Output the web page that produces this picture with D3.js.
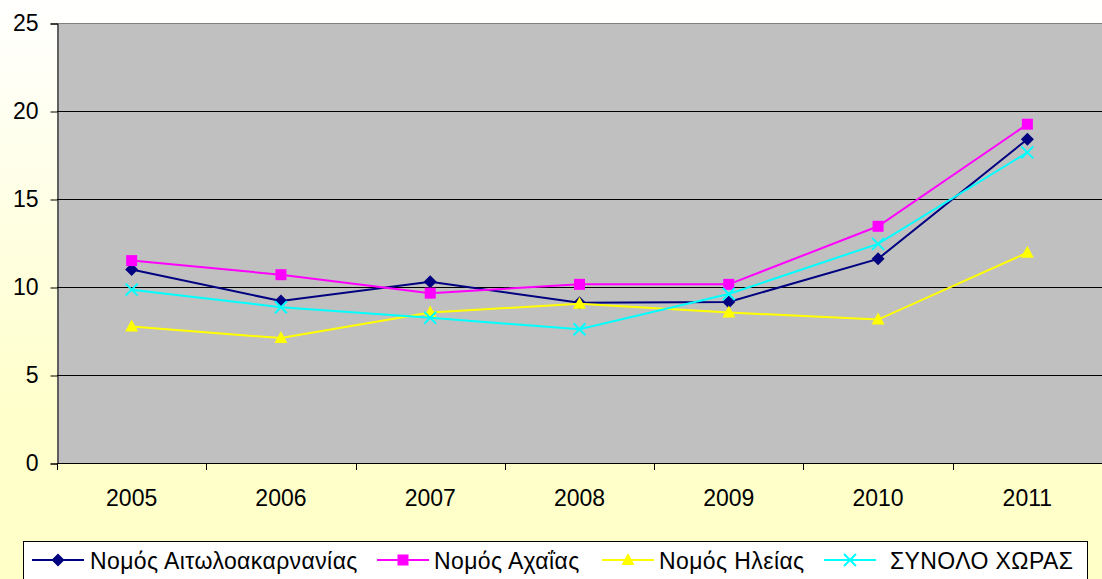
<!DOCTYPE html>
<html>
<head>
<meta charset="utf-8">
<script src="https://cdn.jsdelivr.net/npm/d3@7"></script>
<style>
  body { margin: 0; padding: 0; overflow: hidden; }
  text { font-family: "Liberation Sans", Arial, sans-serif; fill: #000; }
</style>
</head>
<body>
<div id="chart"></div>
<script>
// data
var years = ["2005", "2006", "2007", "2008", "2009", "2010", "2011"];
var seriesNames = ["Νομός Αιτωλοακαρνανίας", "Νομός Αχαΐας", "Νομός Ηλείας", "ΣΥΝΟΛΟ ΧΩΡΑΣ"];
var aitoloakarnania = [11.0, 9.2, 10.3, 9.1, 9.15, 11.6, 18.4];
var achaia = [11.5, 10.7, 9.65, 10.15, 10.15, 13.45, 19.25];
var ileia = [7.75, 7.1, 8.55, 9.05, 8.55, 8.15, 11.95];
var synolo = [9.85, 8.85, 8.25, 7.6, 9.6, 12.45, 17.65];
var yTicks = [0, 5, 10, 15, 20, 25];

var width = 1102, height = 579;
var margin = { left: 57, right: 0, top: 23, bottom: 116 };

var svg = d3.select('#chart')
    .append('svg')
    .attr('width', width)
    .attr('height', height);

// background: white fading into pale yellow
var grad = svg.append('defs').append('linearGradient')
    .attr('id', 'bg').attr('x1', 0).attr('y1', 0).attr('x2', 0).attr('y2', 1);
grad.append('stop').attr('offset', '0%').attr('stop-color', '#ffffff');
grad.append('stop').attr('offset', '70%').attr('stop-color', '#ffffcc');
grad.append('stop').attr('offset', '100%').attr('stop-color', '#ffffc8');
svg.append('rect').attr('width', width).attr('height', height).attr('fill', 'url(#bg)');

const x = d3.scaleBand()
    .domain(years)
    .range([margin.left, width - margin.right]);

const y = d3.scaleLinear()
    .domain([0, 25])
    .range([height - margin.bottom, margin.top]);

// plot area
svg.append('rect')
    .attr('x', margin.left)
    .attr('y', y(25))
    .attr('width', width - margin.right - margin.left)
    .attr('height', y(0) - y(25))
    .attr('fill', '#c0c0c0');

// gridlines
svg.append('g')
    .selectAll('line')
    .data(yTicks.filter(t => t > 0))
    .enter()
    .append('line')
    .attr('x1', margin.left)
    .attr('x2', width - margin.right)
    .attr('y1', d => Math.round(y(d)) + 0.5)
    .attr('y2', d => Math.round(y(d)) + 0.5)
    .attr('stroke', d => d === 25 ? '#808080' : '#000')
    .attr('stroke-width', 1);

// y axis
const yAxis = svg.append('g')
    .attr('transform', `translate(${margin.left + 0.5},0.5)`)
    .call(d3.axisLeft(y).tickValues(yTicks).tickSize(7).tickPadding(12));
yAxis.select('.domain').attr('stroke', '#000');
yAxis.selectAll('text').style('font-size', '23px').attr('font-family', '"Liberation Sans", Arial, sans-serif');

// x axis, ticks between categories
const xAxis = svg.append('g')
    .attr('transform', `translate(0,${Math.round(y(0)) + 0.5})`)
    .call(d3.axisBottom(x).tickSize(0).tickPadding(26));
xAxis.select('.domain').remove();
xAxis.selectAll('text').style('font-size', '23px').attr('font-family', '"Liberation Sans", Arial, sans-serif');
svg.append('line')
    .attr('x1', margin.left).attr('x2', width)
    .attr('y1', Math.round(y(0)) + 0.5).attr('y2', Math.round(y(0)) + 0.5)
    .attr('stroke', '#000');
svg.append('g')
    .selectAll('line')
    .data(years)
    .enter()
    .append('line')
    .attr('x1', d => Math.round(x(d)) + 0.5)
    .attr('x2', d => Math.round(x(d)) + 0.5)
    .attr('y1', y(0))
    .attr('y2', y(0) + 7)
    .attr('stroke', '#000');

const series = [
    { name: seriesNames[0], values: aitoloakarnania, color: '#000080', symbol: 'diamond' },
    { name: seriesNames[1], values: achaia, color: '#ff00ff', symbol: 'square' },
    { name: seriesNames[2], values: ileia, color: '#ffff00', symbol: 'triangle' },
    { name: seriesNames[3], values: synolo, color: '#00ffff', symbol: 'cross' }
];

function drawMarker(g, s, cx, cy) {
    if (s.symbol === 'diamond') {
        g.append('path').attr('d', `M${cx},${cy - 6.5}L${cx + 6.5},${cy}L${cx},${cy + 6.5}L${cx - 6.5},${cy}Z`).attr('fill', s.color);
    } else if (s.symbol === 'square') {
        g.append('rect').attr('x', cx - 5.5).attr('y', cy - 5.5).attr('width', 11).attr('height', 11).attr('fill', s.color);
    } else if (s.symbol === 'triangle') {
        g.append('path').attr('d', `M${cx},${cy - 7}L${cx + 6.5},${cy + 5}L${cx - 6.5},${cy + 5}Z`).attr('fill', s.color);
    } else {
        g.append('path').attr('d', `M${cx - 6},${cy - 6}L${cx + 6},${cy + 6}M${cx - 6},${cy + 6}L${cx + 6},${cy - 6}`)
            .attr('stroke', s.color).attr('stroke-width', 2).attr('fill', 'none');
    }
}

const line = d3.line()
    .x((d, i) => x(years[i]) + x.bandwidth() / 2)
    .y(d => y(d));

series.forEach(s => {
    const g = svg.append('g');
    g.append('path')
        .datum(s.values)
        .attr('d', line)
        .attr('fill', 'none')
        .attr('stroke', s.color)
        .attr('stroke-width', 2);
    s.values.forEach((v, i) => drawMarker(g, s, x(years[i]) + x.bandwidth() / 2, y(v)));
});

// legend
const legend = svg.append('g');
legend.append('rect')
    .attr('x', 23.5).attr('y', 541.5)
    .attr('width', 1064).attr('height', 45)
    .attr('fill', '#fff')
    .attr('stroke', '#000')
    .attr('stroke-width', 1);
const legendX = [32, 377, 602, 824];
const textX = [90, 434, 659, 890];
series.forEach((s, i) => {
    const lx = legendX[i], ly = 560;
    legend.append('line')
        .attr('x1', lx).attr('x2', lx + 52)
        .attr('y1', ly).attr('y2', ly)
        .attr('stroke', s.color).attr('stroke-width', 2);
    drawMarker(legend, s, lx + 26, ly);
    legend.append('text')
        .attr('x', textX[i])
        .attr('y', 569)
        .style('font-size', '23px')
        .style('letter-spacing', '0.4px')
        .text(s.name);
});
</script>
</body>
</html>
